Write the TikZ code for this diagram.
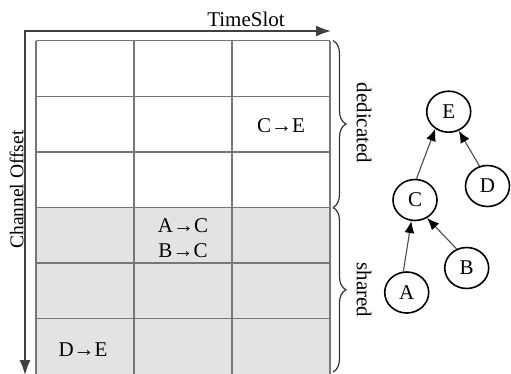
\documentclass[tikz,border=0pt]{standalone}
\usepackage{fontspec}
\setmainfont{Liberation Serif}
\usetikzlibrary{arrows.meta,decorations.pathreplacing,shapes.geometric}
\definecolor{gridgray}{HTML}{777777}
\definecolor{sharedfill}{HTML}{E3E3E3}
\definecolor{axisgray}{HTML}{404040}
\begin{document}
\begin{tikzpicture}[x=1pt,y=-1pt,
  lbl/.style={font=\fontsize{21}{25}\selectfont, inner sep=0pt},
  cellline/.style={draw=gridgray, line width=1.5pt},
  axisline/.style={draw=axisgray, line width=1.4pt,
    {Latex[length=15pt,width=11pt]}-{Latex[length=15pt,width=11pt]}},
  bracebar/.style={draw=black!80, line width=1.2pt,
    decorate, decoration={brace, amplitude=13pt}},
  tnode/.style={ellipse, draw, line width=1.6pt, minimum width=44pt,
    minimum height=41pt, inner sep=0pt, font=\fontsize{21}{25}\selectfont},
  tarrow/.style={draw=black!70, line width=1.1pt,
    -{Latex[length=12pt,width=10pt,color=black]}}]
\useasboundingbox (0,0) rectangle (511,373);

% shared channel rows
\fill[sharedfill] (36,207.5) rectangle (330,375);

% schedule grid: 3 timeslots x 6 channel offsets
\foreach \x in {36,134,232,330} \draw[cellline] (\x,40.5) -- (\x,375);
\foreach \y in {40.5,96.5,152,207.5,263,318.5} \draw[cellline] (36,\y) -- (330,\y);

% axes
\coordinate (corner) at (25,31);
\coordinate (tsend) at (331,31);
\coordinate (coend) at (25,375);
\draw[axisline] (coend) -- (corner) -- (tsend);
\node[lbl] (tslabel) at (246,19.5) {TimeSlot};
\node[lbl, font=\fontsize{19.5}{24}\selectfont, rotate=90] (colabel) at (16.5,189.5) {Channel Offset};

% cell assignments
\node[lbl] (ce) at (281,125.5) {C→E};
\node[lbl, align=center] (abc) at (183,238.5) {A→C\\B→C};
\node[lbl] (de) at (83,349.5) {D→E};

% dedicated / shared braces
\coordinate (dtop) at (333,40.5);
\coordinate (dbot) at (333,207.5);
\coordinate (sbot) at (333,372);
\draw[bracebar] (dtop) -- (dbot);
\draw[bracebar] (dbot) -- (sbot);
\node[lbl, rotate=-90] (dedlabel) at (364,123) {dedicated};
\node[lbl, rotate=-90] (shlabel) at (364,290) {shared};

% routing tree
\node[tnode] (E) at (448.7,111.7) {E};
\node[tnode] (D) at (487.5,186) {D};
\node[tnode] (C) at (415,200) {C};
\node[tnode] (B) at (466.7,268) {B};
\node[tnode] (A) at (406.7,292.5) {A};
\draw[tarrow] (C.86) -- (E.232);
\draw[tarrow] (D.112) -- (E.298);
\draw[tarrow] (A.99) -- (C.260);
\draw[tarrow] (B.118) -- (C.304);
\end{tikzpicture}
\end{document}
